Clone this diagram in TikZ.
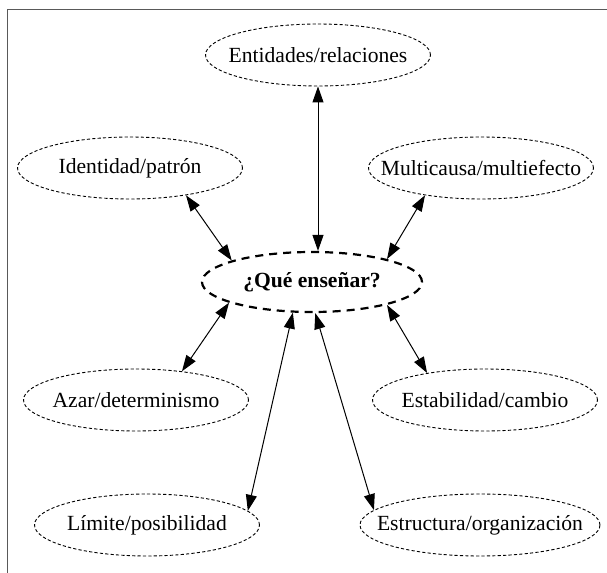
\documentclass[tikz,border=0pt]{standalone}
\usepackage{fontspec}
\setmainfont{Liberation Serif}
\usepackage{tikz}
\usetikzlibrary{shapes.geometric, arrows.meta}
\tikzstyle{topic} = [ellipse, draw=black, dash pattern=on 1.6pt off 1.1pt, line width=0.45pt, minimum width=112.5pt, minimum height=31pt, inner xsep=-12pt, inner ysep=0pt, font=\fontsize{10.8}{12}\selectfont]
\tikzstyle{core} = [ellipse, draw=black, dash pattern=on 4pt off 3pt, line width=1.1pt, minimum width=110pt, minimum height=30pt, inner xsep=-12pt, inner ysep=0pt, font=\fontsize{10.8}{12}\selectfont\bfseries]
\tikzstyle{link} = [line width=0.5pt, {Triangle[length=8pt,width=5.5pt]}-{Triangle[length=8pt,width=5.5pt]}]
\tikzstyle{frame} = [line width=0.9pt, draw=black!65]

\begin{document}
\begin{tikzpicture}[x=0.5pt, y=-0.5pt]
\useasboundingbox (0,0) rectangle (607,573);
% open frame, top and left side only
\draw[frame] (7.5,573) -- (7.5,9.5) -- (607,9.5);

% centre
\node[core] (que) at (312,282) {¿Qué enseñar?};

% topics
\node[topic] (ent) at (318,55) {Entidades/relaciones};
\node[topic] (ide) at (130,168) {Identidad/patrón};
\node[topic] (mul) at (481,168) {Multicausa/multiefecto};
\node[topic] (aza) at (136,400) {Azar/determinismo};
\node[topic] (est) at (485,400) {Estabilidad/cambio};
\node[topic] (lim) at (147,525) {Límite/posibilidad};
\node[topic, minimum width=120pt] (org) at (480,525) {Estructura/organización};

% links
\draw[link] (ent.south) -- (ent.south |- que.north);
\draw[link] (ide.-26) -- (que.165);
\draw[link] (mul.206) -- (que.17);
\draw[link] (aza.32) -- (que.194);
\draw[link] (est.155) -- (que.-17);
\draw[link] (lim.8) -- (que.238);
\draw[link] (org.172) -- (que.-84);
\end{tikzpicture}
\end{document}
